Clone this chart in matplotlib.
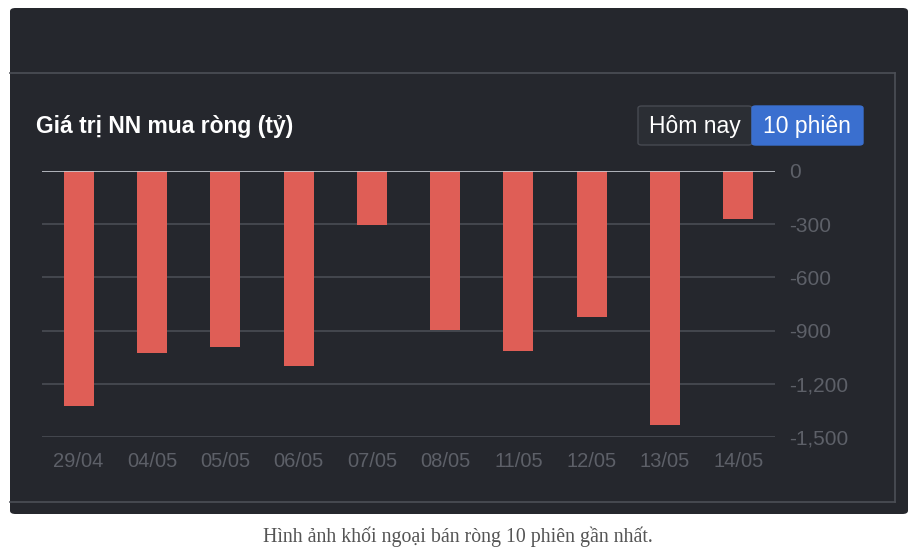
import matplotlib
matplotlib.use("Agg")
import matplotlib.pyplot as plt
from matplotlib.patches import FancyBboxPatch
from matplotlib.lines import Line2D

# data
dates = ["29/04", "04/05", "05/05", "06/05", "07/05", "08/05", "11/05", "12/05", "13/05", "14/05"]
net_buy = [-1325, -1027, -993, -1100, -305, -897, -1015, -823, -1433, -271]
y_ticks = [0, -300, -600, -900, -1200, -1500]
y_labels = ["0", "-300", "-600", "-900", "-1,200", "-1,500"]

W, H = 916, 552
PANEL = "#25272d"
BAR = "#df5e56"
GRID = "#4a4d54"
TICK = "#5d6068"

plt.rcParams["font.family"] = ["Liberation Sans", "DejaVu Sans"]

fig = plt.figure(figsize=(W / 100, H / 100), dpi=100)
fig.patch.set_facecolor("white")


def fx(px):
    return px / W


def fy(py):
    return 1 - py / H


# dark panel
fig.patches.append(FancyBboxPatch((fx(10), fy(514)), fx(898), (514 - 8) / H,
                                  boxstyle="round,pad=0,rounding_size=0.006",
                                  transform=fig.transFigure, facecolor=PANEL,
                                  edgecolor="none", zorder=-2))
# inner frame lines
for xs, ys in [((10, 895), (73, 73)), ((895, 895), (73, 502)), ((10, 895), (502, 502))]:
    fig.add_artist(Line2D([fx(x) for x in xs], [fy(y) for y in ys],
                          transform=fig.transFigure, color="#4c4f56", lw=1.2, zorder=-1))

ax = fig.add_axes([fx(42), fy(437), fx(775 - 42), (437 - 171) / H])
ax.set_zorder(5)
ax.set_facecolor("none")
ax.bar(range(len(dates)), net_buy, width=0.41, color=BAR, zorder=3)
ax.set_xlim(-0.5, len(dates) - 0.5)
ax.set_ylim(-1500, 0)
ax.set_yticks(y_ticks)
ax.set_yticklabels(y_labels)
ax.yaxis.tick_right()
ax.set_xticks(range(len(dates)))
ax.set_xticklabels(dates)
for v in y_ticks:
    ax.axhline(v, color="#c9ccd3" if v == 0 else GRID, lw=1.2, zorder=4 if v == 0 else 1)
for s in ax.spines.values():
    s.set_visible(False)
ax.tick_params(axis="y", length=0, pad=10, labelsize=15, labelcolor=TICK)
ax.tick_params(axis="x", length=0, pad=11, labelsize=14.5, labelcolor=TICK)

# title
fig.text(fx(36), fy(127), "Giá trị NN mua ròng (tỷ)", color="white", fontsize=16.5,
         fontweight="bold", va="center", ha="left")

# toggle buttons
fig.patches.append(FancyBboxPatch((fx(638), fy(145)), fx(752 - 638), 39 / H,
                                  boxstyle="round,pad=0,rounding_size=0.004",
                                  transform=fig.transFigure, facecolor="#2b2e34",
                                  edgecolor="#474a51", lw=1, zorder=1))
fig.patches.append(FancyBboxPatch((fx(752), fy(145)), fx(863 - 752), 39 / H,
                                  boxstyle="round,pad=0,rounding_size=0.004",
                                  transform=fig.transFigure, facecolor="#3a6fcf",
                                  edgecolor="#3a6fcf", lw=1, zorder=1))
fig.text(fx(695), fy(126), "Hôm nay", color="white", fontsize=16.5, ha="center", va="center")
fig.text(fx(807), fy(126), "10 phiên", color="white", fontsize=16.5, ha="center", va="center")

# caption
fig.text(0.5, fy(537), "Hình ảnh khối ngoại bán ròng 10 phiên gần nhất.",
         family=["Liberation Serif", "DejaVu Serif"], color="#555555", fontsize=14.3,
         ha="center", va="center")

fig.savefig("out.png", dpi=100, facecolor=fig.get_facecolor())
